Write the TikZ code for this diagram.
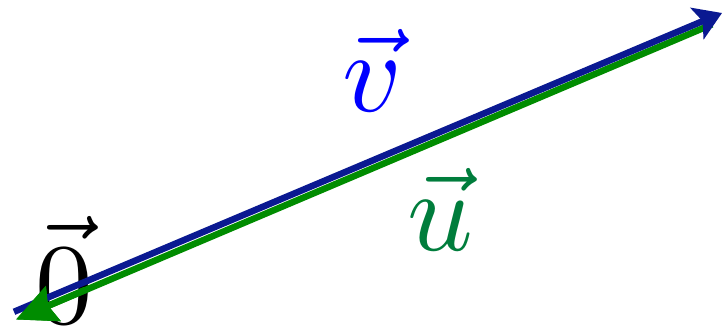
\documentclass[tikz,border=0pt]{standalone}
\usetikzlibrary{arrows.meta}
\definecolor{linblue}{RGB}{10,25,145}
\definecolor{lingreen}{RGB}{0,140,0}
\definecolor{labgreen}{RGB}{0,125,60}
\begin{document}
\begin{tikzpicture}[x=1pt,y=1pt,
  vecline/.style={line width=6.5pt},
  greenhead/.style={-{Stealth[length=40pt,width=37pt,inset=5pt]}},
  veclabel/.style={inner sep=0pt,anchor=base,scale=11.5}]
\useasboundingbox (0,0) rectangle (722,329);
\node[veclabel,text=blue] (v) at (372,217) {$\vec{v}$};
\node[veclabel,text=labgreen] (u) at (440,79) {$\vec{u}$};
\node[veclabel,text=black] (z) at (64,6) {$\vec{0}$};
\coordinate (O1) at (14,17.2);
\coordinate (P1) at (722,316);
\coordinate (O2) at (16,9.5);
\coordinate (P2) at (712,304.6);
\coordinate (G) at (85,39);
\draw[vecline,lingreen,greenhead] (P2) -- (O2);
\draw[vecline,linblue,-{Stealth[length=27pt,width=34pt,inset=6pt]}] (O1) -- (P1);
\draw[vecline,lingreen,greenhead] (G) -- (O2);
\end{tikzpicture}
\end{document}
